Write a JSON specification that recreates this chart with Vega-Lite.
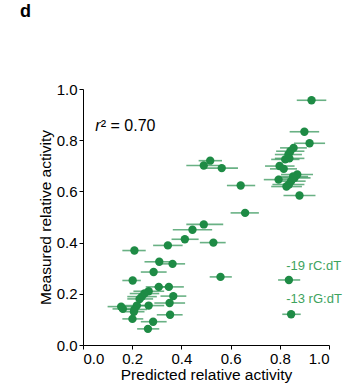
{
  "$schema": "https://vega.github.io/schema/vega-lite/v6.json",
  "autosize": "none",
  "width": 246,
  "height": 256,
  "padding": {"left": 83, "top": 89, "right": 20, "bottom": 45},
  "background": "white",
  "config": {
    "view": {"stroke": null},
    "font": "Liberation Sans",
    "axis": {"grid": false, "domainColor": "black", "tickColor": "black", "labelColor": "black", "titleColor": "black", "labelFont": "Liberation Sans", "titleFont": "Liberation Sans", "labelFontSize": 15, "titleFontSize": 15.5, "titleFontWeight": "normal", "tickSize": 4, "labelPadding": 2, "domainWidth": 1, "tickWidth": 1}
  },
  "title": {"text": "d", "anchor": "start", "frame": "group", "dx": -63, "offset": 61, "fontSize": 18, "fontWeight": "bold", "font": "Liberation Sans", "color": "black"},
  "data": {"values": [
    {"x":0.929,"y":0.956,"lo":0.869,"hi":0.989},
    {"x":0.900,"y":0.833,"lo":0.840,"hi":0.960},
    {"x":0.921,"y":0.788,"lo":0.858,"hi":0.984},
    {"x":0.856,"y":0.770,"lo":0.801,"hi":0.910},
    {"x":0.843,"y":0.757,"lo":0.785,"hi":0.900},
    {"x":0.835,"y":0.744,"lo":0.780,"hi":0.890},
    {"x":0.822,"y":0.725,"lo":0.765,"hi":0.880},
    {"x":0.839,"y":0.729,"lo":0.780,"hi":0.900},
    {"x":0.799,"y":0.699,"lo":0.740,"hi":0.860},
    {"x":0.816,"y":0.688,"lo":0.760,"hi":0.870},
    {"x":0.871,"y":0.666,"lo":0.805,"hi":0.935},
    {"x":0.860,"y":0.653,"lo":0.795,"hi":0.925},
    {"x":0.795,"y":0.646,"lo":0.735,"hi":0.855},
    {"x":0.846,"y":0.640,"lo":0.785,"hi":0.905},
    {"x":0.837,"y":0.627,"lo":0.770,"hi":0.900},
    {"x":0.827,"y":0.619,"lo":0.765,"hi":0.890},
    {"x":0.880,"y":0.584,"lo":0.815,"hi":0.945},
    {"x":0.854,"y":0.658,"lo":0.790,"hi":0.915},
    {"x":0.517,"y":0.720,"lo":0.470,"hi":0.565},
    {"x":0.491,"y":0.701,"lo":0.420,"hi":0.555},
    {"x":0.564,"y":0.691,"lo":0.495,"hi":0.630},
    {"x":0.641,"y":0.623,"lo":0.585,"hi":0.700},
    {"x":0.659,"y":0.516,"lo":0.600,"hi":0.715},
    {"x":0.491,"y":0.471,"lo":0.420,"hi":0.570},
    {"x":0.445,"y":0.450,"lo":0.365,"hi":0.525},
    {"x":0.414,"y":0.413,"lo":0.360,"hi":0.470},
    {"x":0.530,"y":0.400,"lo":0.475,"hi":0.580},
    {"x":0.345,"y":0.389,"lo":0.285,"hi":0.405},
    {"x":0.209,"y":0.369,"lo":0.160,"hi":0.255},
    {"x":0.310,"y":0.325,"lo":0.250,"hi":0.365},
    {"x":0.364,"y":0.317,"lo":0.310,"hi":0.415},
    {"x":0.287,"y":0.285,"lo":0.235,"hi":0.340},
    {"x":0.559,"y":0.266,"lo":0.515,"hi":0.605},
    {"x":0.837,"y":0.254,"lo":0.793,"hi":0.883},
    {"x":0.202,"y":0.252,"lo":0.160,"hi":0.235},
    {"x":0.308,"y":0.227,"lo":0.255,"hi":0.350},
    {"x":0.349,"y":0.227,"lo":0.290,"hi":0.410},
    {"x":0.267,"y":0.210,"lo":0.205,"hi":0.330},
    {"x":0.250,"y":0.201,"lo":0.190,"hi":0.310},
    {"x":0.367,"y":0.191,"lo":0.315,"hi":0.420},
    {"x":0.239,"y":0.189,"lo":0.180,"hi":0.300},
    {"x":0.230,"y":0.180,"lo":0.180,"hi":0.285},
    {"x":0.352,"y":0.164,"lo":0.290,"hi":0.415},
    {"x":0.267,"y":0.154,"lo":0.205,"hi":0.330},
    {"x":0.219,"y":0.154,"lo":0.165,"hi":0.270},
    {"x":0.155,"y":0.150,"lo":0.100,"hi":0.205},
    {"x":0.162,"y":0.141,"lo":0.120,"hi":0.205},
    {"x":0.209,"y":0.139,"lo":0.155,"hi":0.260},
    {"x":0.207,"y":0.130,"lo":0.165,"hi":0.250},
    {"x":0.354,"y":0.118,"lo":0.300,"hi":0.405},
    {"x":0.846,"y":0.120,"lo":0.810,"hi":0.885},
    {"x":0.201,"y":0.102,"lo":0.160,"hi":0.245},
    {"x":0.285,"y":0.091,"lo":0.235,"hi":0.340},
    {"x":0.264,"y":0.063,"lo":0.220,"hi":0.310}
  ]},
  "encoding": {
    "x": {"field": "x", "type": "quantitative", "scale": {"domain": [0, 1], "nice": false}, "axis": {"title": "Predicted relative activity", "values": [0, 0.2, 0.4, 0.6, 0.8, 1.0], "format": ".1f", "titlePadding": 1}},
    "y": {"field": "y", "type": "quantitative", "scale": {"domain": [0, 1], "nice": false}, "axis": {"title": "Measured relative activity", "values": [0, 0.2, 0.4, 0.6, 0.8, 1.0], "format": ".1f", "titlePadding": 3}}
  },
  "layer": [
    {"mark": {"type": "rule", "color": "#2a9050", "opacity": 0.7, "strokeWidth": 1.6}, "encoding": {"x": {"field": "lo", "type": "quantitative"}, "x2": {"field": "hi"}}},
    {"mark": {"type": "circle", "color": "#1e8b45", "opacity": 1, "size": 70}},
    {"data": {"values": [{"tx": 0.05, "ty": 0.857, "label": "r"}]}, "mark": {"type": "text", "align": "left", "baseline": "middle", "fontSize": 16, "fontStyle": "italic", "color": "black", "font": "Liberation Sans"}, "encoding": {"x": {"field": "tx", "type": "quantitative"}, "y": {"field": "ty", "type": "quantitative"}, "text": {"field": "label"}}},
    {"data": {"values": [{"tx": 0.05, "ty": 0.857, "label": "² = 0.70"}]}, "mark": {"type": "text", "align": "left", "baseline": "middle", "dx": 5.5, "fontSize": 16, "color": "black", "font": "Liberation Sans"}, "encoding": {"x": {"field": "tx", "type": "quantitative"}, "y": {"field": "ty", "type": "quantitative"}, "text": {"field": "label"}}},
    {"data": {"values": [{"tx": 0.826, "ty": 0.31, "label": "-19 rC:dT"}, {"tx": 0.826, "ty": 0.178, "label": "-13 rG:dT"}]}, "mark": {"type": "text", "align": "left", "baseline": "middle", "fontSize": 13, "color": "#3ea35e", "font": "Liberation Sans"}, "encoding": {"x": {"field": "tx", "type": "quantitative"}, "y": {"field": "ty", "type": "quantitative"}, "text": {"field": "label"}}}
  ]
}
